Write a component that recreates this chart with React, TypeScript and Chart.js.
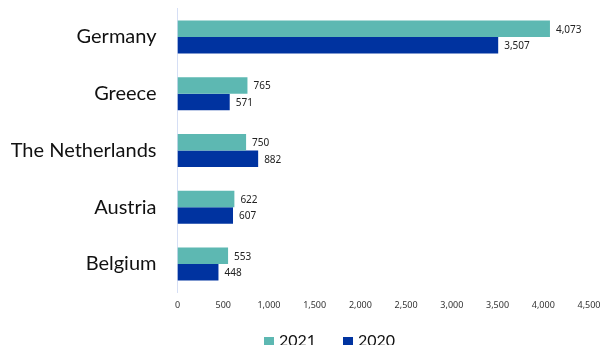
import React, { useEffect, useRef } from "react";
import { Chart, registerables } from "chart.js";

Chart.register(...registerables);

const categories = ["Germany", "Greece", "The Netherlands", "Austria", "Belgium"];
const values2021 = [4073, 765, 750, 622, 553];
const values2020 = [3507, 571, 882, 607, 448];
const seriesNames = ["2021", "2020"];
const xMax = 4500;
const xStep = 500;

const colors = ["#5DB8B2", "#0033A0"];

const fmt = (v: number) => v.toLocaleString("en-US");

const labelPlugin = {
  id: "valueLabels",
  afterDatasetsDraw(chart: any) {
    const ctx = chart.ctx;
    ctx.save();
    ctx.font = "10px 'Noto Sans'";
    ctx.fillStyle = "#222";
    ctx.textAlign = "left";
    ctx.textBaseline = "middle";
    chart.data.datasets.forEach((ds: any, di: number) => {
      const meta = chart.getDatasetMeta(di);
      meta.data.forEach((el: any, i: number) => {
        ctx.fillText(fmt(ds.data[i]), el.x + 6, el.y + 1);
      });
    });
    ctx.restore();
  },
};

const legendPlugin = {
  id: "customLegend",
  afterDraw(chart: any) {
    const ctx = chart.ctx;
    ctx.save();
    ctx.font = "16px Lato";
    ctx.textBaseline = "alphabetic";
    ctx.textAlign = "left";
    const starts = [264, 343];
    chart.data.datasets.forEach((ds: any, i: number) => {
      const x = starts[i];
      ctx.fillStyle = ds.backgroundColor;
      ctx.fillRect(x, 337, 10, 10);
      ctx.fillStyle = "#111";
      ctx.fillText(ds.label, x + 15, 346);
    });
    ctx.restore();
  },
};

export default function App() {
  const ref = useRef<HTMLCanvasElement | null>(null);
  useEffect(() => {
    if (!ref.current) return;
    const chart = new Chart(ref.current, {
      type: "bar",
      data: {
        labels: categories,
        datasets: [
          { label: seriesNames[0], data: values2021, backgroundColor: colors[0], categoryPercentage: 0.58, barPercentage: 1 },
          { label: seriesNames[1], data: values2020, backgroundColor: colors[1], categoryPercentage: 0.58, barPercentage: 1 },
        ],
      },
      options: {
        indexAxis: "y",
        animation: false,
        responsive: true,
        maintainAspectRatio: false,
        layout: { padding: { top: 8.6, right: 12, left: 0, bottom: 0 } },
        plugins: { legend: { display: false }, tooltip: { enabled: false } },
        scales: {
          x: {
            min: 0,
            max: xMax,
            grid: { display: false, drawTicks: false },
            border: { display: false },
            ticks: {
              stepSize: xStep,
              maxRotation: 0,
              autoSkip: false,
              padding: 8,
              color: "#333",
              font: { family: "'Noto Sans'", size: 9 },
              callback: (v: any) => fmt(Number(v)),
            },
            afterFit: (s: any) => {
              s.height = 52.6;
              s.paddingLeft = 0;
              s.paddingRight = 0;
            },
          },
          y: {
            grid: { display: false, drawTicks: false },
            border: { display: true, color: "#D6DFF5", width: 1 },
            ticks: {
              padding: 21,
              color: "#111",
              font: { family: "Lato", size: 20 },
            },
            afterFit: (s: any) => {
              s.width = 177.5;
              s.paddingTop = 0;
              s.paddingBottom = 0;
            },
          },
        },
      },
      plugins: [labelPlugin, legendPlugin],
    });
    return () => chart.destroy();
  }, []);
  return (
    <div style={{ position: "fixed", left: 0, top: 0, width: 601, height: 345, overflow: "hidden", background: "#fff" }}>
      <canvas ref={ref} />
    </div>
  );
}
